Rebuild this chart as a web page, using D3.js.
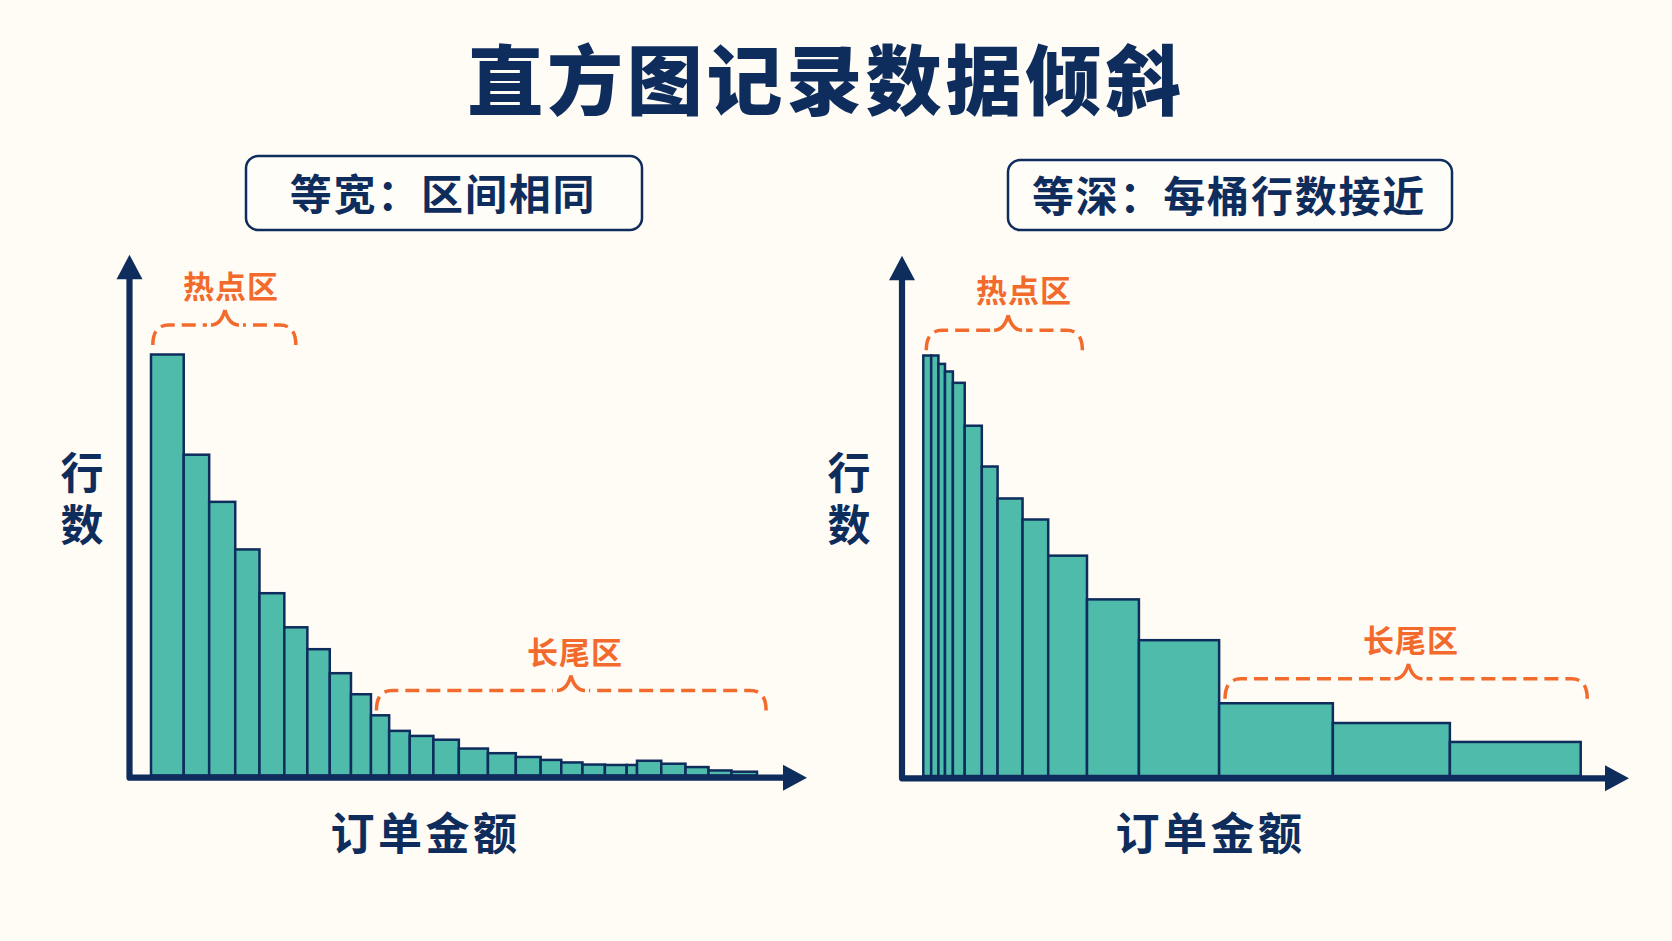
<!DOCTYPE html>
<html lang="zh">
<head>
<meta charset="utf-8">
<script src="https://cdn.jsdelivr.net/npm/d3@7"></script>
<style>
html,body{margin:0;padding:0;background:#FFFCF6;}
svg{display:block;}
text{font-family:"Noto Sans CJK SC","Noto Sans",sans-serif;}
</style>
</head>
<body>
<svg id="chart" width="1672" height="941"></svg>
<script>
const titleText = "直方图记录数据倾斜";
const xAxisLabel = "订单金额";
const yAxisLabel = "行数";
const hotLabel = "热点区";
const tailLabel = "长尾区";

const widthTitle = "等宽：区间相同";
const widthEdges = [0,5.4,9.6,13.9,17.9,22,25.8,29.5,33,36.3,39.3,42.7,46.6,50.8,55.6,60.2,64.3,67.7,71.2,74.9,78.5,80.2,84.2,88.2,92,95.8,100];
const widthRows = [100,76.2,65,53.7,43.3,35.2,30,24.3,19.3,14.3,10.6,9.4,8.5,6.4,5.3,4.4,3.7,3.1,2.6,2.5,2.5,3.5,2.8,2,1.2,0.9];
const widthHot = [0.3,12.2,23.9,107];
const widthTail = [37.2,69.3,101.5,20.2];

const depthTitle = "等深：每桶行数接近";
const depthEdges = [0,1.2,2.3,3.3,4.5,6.3,8.9,11.3,15.1,19,24.9,32.8,45,62.3,80.1,100];
const depthRows = [100,100,98,96.2,93.5,83.3,73.6,66,61,52.4,42,32.3,17.3,12.6,8.1];
const depthHot = [0.45,12.9,24.2,106];
const depthTail = [45.9,73.8,101,23.1];

const navy = "#0E2C5C", teal = "#4FBCAB", orange = "#F26B2C";
const svg = d3.select("#chart");
svg.append("rect").attr("width",1672).attr("height",941).attr("fill","#FFFCF6");

svg.append("text").attr("x",826).attr("y",76)
  .attr("text-anchor","middle").attr("dominant-baseline","central")
  .attr("font-size",76).attr("font-weight",900).attr("letter-spacing",3.7)
  .attr("fill",navy).text(titleText);

function panel(cfg){
  const g = svg.append("g");
  const x = d3.scaleLinear().domain([0,100]).range(cfg.xr);
  const y = d3.scaleLinear().domain([0,100]).range([cfg.base,cfg.top]);

  // title box
  g.append("rect").attr("x",cfg.box[0]).attr("y",cfg.box[1]).attr("width",cfg.box[2]).attr("height",cfg.box[3])
    .attr("rx",12).attr("fill","#FFFDF8").attr("stroke",navy).attr("stroke-width",2.5);
  g.append("text").attr("x",cfg.box[0]+cfg.box[2]/2-1).attr("y",cfg.box[1]+cfg.box[3]/2-2)
    .attr("text-anchor","middle").attr("dominant-baseline","central")
    .attr("font-size",42).attr("font-weight",700).attr("letter-spacing",1.8)
    .attr("fill",navy).text(cfg.title);

  // bars
  g.selectAll("rect.bar").data(cfg.rows).join("rect").attr("class","bar")
    .attr("x",(d,i)=>x(cfg.edges[i]))
    .attr("width",(d,i)=>x(cfg.edges[i+1])-x(cfg.edges[i]))
    .attr("y",d=>y(d))
    .attr("height",d=>y(0)-y(d))
    .attr("fill",teal).attr("stroke",navy).attr("stroke-width",2.5);

  // axes
  const [ax,ay] = cfg.origin;
  g.append("path").attr("d",`M${ax},${cfg.arrowY+10}V${ay}H${cfg.arrowX-10}`)
    .attr("fill","none").attr("stroke",navy).attr("stroke-width",6.2).attr("stroke-linejoin","round");
  g.append("path").attr("d",`M${ax},${cfg.arrowY}L${ax+13},${cfg.arrowY+24.5}H${ax-13}Z`).attr("fill",navy);
  g.append("path").attr("d",`M${cfg.arrowX},${ay}L${cfg.arrowX-24},${ay+13}V${ay-13}Z`).attr("fill",navy);

  // axis labels
  g.append("text").attr("x",cfg.yLabelX).attr("y",503)
    .attr("text-anchor","middle").attr("dominant-baseline","central")
    .attr("font-size",43).attr("font-weight",700).attr("letter-spacing",9)
    .style("writing-mode","vertical-rl").style("text-orientation","upright")
    .attr("fill",navy).text(yAxisLabel);
  g.append("text").attr("x",cfg.xLabelX).attr("y",831)
    .attr("text-anchor","middle").attr("dominant-baseline","central")
    .attr("font-size",44).attr("font-weight",700).attr("letter-spacing",3.5)
    .attr("fill",navy).text(xAxisLabel);

  // brackets: each half runs from its foot to the tip
  function bracket(b,label,labelPos){
    const [x0,xp,x1,level] = b;
    const X0=x(x0), XP=x(xp), X1=x(x1), Y=y(level);
    [[X0,1],[X1,-1]].forEach(([F,s])=>{
      const p = d3.path();
      p.moveTo(F,Y+20);
      p.quadraticCurveTo(F,Y,F+16*s,Y);
      p.lineTo(XP-18*s,Y);
      g.append("path").attr("d",p.toString()).attr("fill","none")
        .attr("stroke",orange).attr("stroke-width",3.5)
        .attr("stroke-dasharray","14 7");
      const c = d3.path();
      c.moveTo(XP-14*s,Y);
      c.quadraticCurveTo(XP-4*s,Y,XP,Y-15);
      g.append("path").attr("d",c.toString()).attr("fill","none")
        .attr("stroke",orange).attr("stroke-width",3.5);
    });
    g.append("text").attr("x",labelPos[0]).attr("y",labelPos[1])
      .attr("text-anchor","middle").attr("dominant-baseline","central")
      .attr("font-size",31).attr("font-weight",700).attr("letter-spacing",1)
      .attr("fill",orange).text(label);
  }
  bracket(cfg.hot,hotLabel,cfg.hotPos);
  bracket(cfg.tail,tailLabel,cfg.tailPos);
}

panel({title:widthTitle,box:[246,156,396,74],edges:widthEdges,rows:widthRows,xr:[151,757],base:775.5,top:354.5,
  origin:[129.5,777.7],arrowY:254.7,arrowX:807,yLabelX:82,xLabelX:425.5,
  hot:widthHot,tail:widthTail,hotPos:[231,284],tailPos:[575,650]});
panel({title:depthTitle,box:[1008,160,444,70],edges:depthEdges,rows:depthRows,xr:[923.3,1580.7],base:776,top:355.5,
  origin:[902,778.3],arrowY:255.7,arrowX:1629,yLabelX:849,xLabelX:1210.5,
  hot:depthHot,tail:depthTail,hotPos:[1024,288],tailPos:[1411,638]});
</script>
</body>
</html>
